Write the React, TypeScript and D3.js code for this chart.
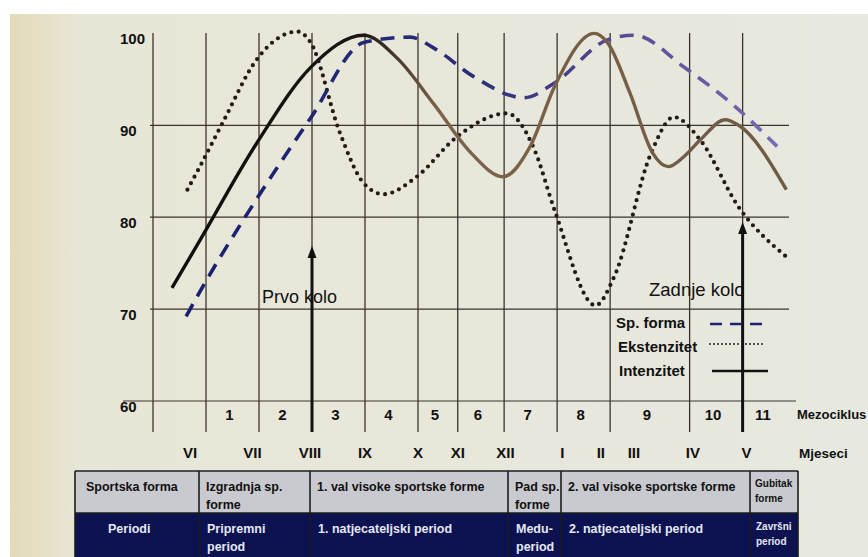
import React from 'react';
import * as d3 from 'd3';

// x axis is in weeks of the season, y is % of max
const yTicks = [60, 70, 80, 90, 100];
const mezoBounds = [0, 4, 8, 12, 16, 20, 23, 26.5, 30.5, 34.5, 40.5, 44.5];
const seasonEnd = 48;
const mezoLabels = ['1', '2', '3', '4', '5', '6', '7', '8', '9', '10', '11'];
const months = ['VI', 'VII', 'VIII', 'IX', 'X', 'XI', 'XII', 'I', 'II', 'III', 'IV', 'V'];
const monthWeeks = [2.8, 7.5, 11.85, 16, 20, 23, 26.6, 30.9, 33.8, 36.3, 40.75, 44.8];

const intenzitetWeeks = [1.43, 3.55, 7.85, 11.9, 15.9, 18.5, 21.2, 24, 26.4, 28.5, 30.3, 33.3, 34.3, 36, 37.7, 38.9, 40, 41.3, 43.2, 44.2, 47.8];
const intenzitet = [72.3, 77.5, 88.1, 96.3, 99.8, 97.2, 92.3, 87, 84.4, 87.8, 94.2, 100, 99, 93.5, 87, 85.5, 86.5, 88.4, 90.6, 90, 83];

const formaWeeks = [2.5, 3.5, 7.3, 11.9, 15.9, 19.4, 21.2, 24.2, 28, 30.3, 34.3, 36.3, 40.2, 44.2, 47.1];
const forma = [69.2, 71.8, 80.8, 90.8, 99, 99.6, 98.4, 95.3, 93, 94.6, 99.3, 99.8, 96.2, 91.7, 87.7];

const ekstenzitetWeeks = [2.6, 3.5, 5.3, 7.8, 10.9, 11.9, 14.1, 15.9, 17.4, 19.9, 22.9, 26.7, 28.8, 30.3, 33.4, 34.8, 37.6, 39.3, 41.3, 44.2, 47.8];
const ekstenzitet = [83, 85.4, 90.4, 97.1, 100.2, 99, 89.2, 83.7, 82.5, 84.4, 88.7, 91.3, 87.3, 80.8, 70.4, 73.5, 87, 90.9, 88.4, 81.1, 75.7];

const prvoKoloWeek = 12;
const zadnjeKoloWeek = 44.5;

const formaRow = ['Sportska forma', 'Izgradnja sp.|forme', '1. val visoke sportske forme', 'Pad sp.|forme', '2. val visoke sportske forme', 'Gubitak|forme'];
const periodRow = ['Periodi', 'Pripremni|period', '1. natjecateljski period', 'Medu-|period', '2. natjecateljski period', 'Završni|period'];

const W = 868;
const H = 557;
const font = '"Liberation Sans", Arial, sans-serif';

const x = d3.scaleLinear().domain([0, seasonEnd]).range([153, 789]);
const y = d3.scaleLinear().domain([60, 100]).range([401, 33.4]);

const line = d3.line<[number, number]>()
    .x(d => x(d[0]))
    .y(d => y(d[1]))
    .curve(d3.curveMonotoneX);

const zip = (a: number[], b: number[]) => a.map((v, i) => [v, b[i]] as [number, number]);

// table geometry
const tableCols = [75, 199, 310, 508, 561, 750, 798];
const tableTop = 471;
const tableMid = 513;

const Arrow = ({ wk, tip }: { wk: number; tip: number }) => (
    <g>
        <line x1={x(wk)} x2={x(wk)} y1={432} y2={tip + 10} stroke="#111" strokeWidth={3} />
        <path d={`M${x(wk) - 4.5},${tip + 12} L${x(wk)},${tip} L${x(wk) + 4.5},${tip + 12} Z`} fill="#111" />
    </g>
);

const Cell = ({ text, x0, yTop, color, small }: { text: string; x0: number; yTop: number; color: string; small: boolean }) => {
    const parts = text.split('|');
    const fs = small ? 10 : 12.5;
    const lh = small ? 15 : 18;
    return (
        <text x={x0} y={yTop} fill={color} fontFamily={font} fontWeight="bold" fontSize={fs}>
            {parts.map((p, i) => (
                <tspan key={i} x={x0} dy={i === 0 ? 0 : lh}>{p}</tspan>
            ))}
        </text>
    );
};

export default function App() {
    const grid = '#3b342c';
    return (
        <div style={{ position: 'fixed', left: 0, top: 0 }}>
            <svg width={W} height={H} style={{ display: 'block' }}>
                <defs>
                    <linearGradient id="page" x1="0" x2="1" y1="0" y2="0">
                        <stop offset="0" stopColor="#e2dab8" />
                        <stop offset="0.08" stopColor="#e8e6d6" />
                        <stop offset="1" stopColor="#e7e8df" />
                    </linearGradient>
                    <linearGradient id="intGrad" gradientUnits="userSpaceOnUse" x1={150} x2={790} y1={0} y2={0}>
                        <stop offset="0" stopColor="#0d0d0d" />
                        <stop offset="0.33" stopColor="#1a1612" />
                        <stop offset="0.45" stopColor="#7d634a" />
                        <stop offset="1" stopColor="#6f5a44" />
                    </linearGradient>
                    <linearGradient id="formaGrad" gradientUnits="userSpaceOnUse" x1={150} x2={790} y1={0} y2={0}>
                        <stop offset="0" stopColor="#131f6e" />
                        <stop offset="0.5" stopColor="#2a2d78" />
                        <stop offset="0.75" stopColor="#5a4c96" />
                        <stop offset="1" stopColor="#7f6db4" />
                    </linearGradient>
                </defs>
                <rect width={W} height={H} fill="#ffffff" />
                <rect x={10} y={14} width={W - 10} height={H - 14} fill="url(#page)" />

                {/* horizontal grid */}
                {yTicks.filter(t => t < 100).map(t => (
                    <line key={t} x1={t === 60 ? 123 : 150} x2={t === 60 ? 796 : x(seasonEnd)} y1={y(t)} y2={y(t)} stroke={grid} strokeWidth={1.2} />
                ))}
                {/* vertical lines */}
                {mezoBounds.map((b, i) => (
                    <line key={i} x1={x(b)} x2={x(b)} y1={33} y2={432} stroke={grid} strokeWidth={1.3} />
                ))}
                {yTicks.map(t => (
                    <text key={t} x={120} y={y(t) + 7} dominantBaseline="middle" fontFamily={font} fontWeight="bold" fontSize={15} fill="#111">{t}</text>
                ))}

                {/* curves */}
                <path d={line(zip(ekstenzitetWeeks, ekstenzitet)) || ''} fill="none" stroke="#231c16" strokeWidth={4.2} strokeDasharray="0 7.4" strokeLinecap="round" />
                <path d={line(zip(formaWeeks, forma)) || ''} fill="none" stroke="url(#formaGrad)" strokeWidth={3.6} strokeDasharray="14 9" />
                <path d={line(zip(intenzitetWeeks, intenzitet)) || ''} fill="none" stroke="url(#intGrad)" strokeWidth={3.4} />

                {/* arrows */}
                <Arrow wk={prvoKoloWeek} tip={246} />
                <Arrow wk={zadnjeKoloWeek} tip={222} />
                <text x={262} y={298} dominantBaseline="middle" fontFamily={font} fontSize={18} fill="#111">Prvo kolo</text>
                <text x={649} y={291} dominantBaseline="middle" fontFamily={font} fontSize={18.5} fill="#111">Zadnje kolo</text>

                {/* legend */}
                <text x={616} y={324} dominantBaseline="middle" fontFamily={font} fontWeight="bold" fontSize={15} fill="#111">Sp. forma</text>
                <text x={618} y={348} dominantBaseline="middle" fontFamily={font} fontWeight="bold" fontSize={15} fill="#111">Ekstenzitet</text>
                <text x={619} y={372} dominantBaseline="middle" fontFamily={font} fontWeight="bold" fontSize={15} fill="#111">Intenzitet</text>
                <line x1={710} x2={764} y1={324} y2={324} stroke="#1b2470" strokeWidth={2.5} strokeDasharray="12 8" />
                <line x1={710} x2={766} y1={344} y2={344} stroke="#222" strokeWidth={2} strokeDasharray="0 4" strokeLinecap="round" />
                <line x1={712} x2={768} y1={371} y2={371} stroke="#111" strokeWidth={2.6} />

                {/* mezociklus + months */}
                {mezoLabels.map((m, i) => {
                    const a = mezoBounds[i + 1];
                    const b = i + 2 < mezoBounds.length ? mezoBounds[i + 2] : seasonEnd;
                    return (
                        <text key={m} x={x((a + b) / 2) - 3} y={416} textAnchor="middle" dominantBaseline="middle" fontFamily={font} fontWeight="bold" fontSize={15} fill="#111">{m}</text>
                    );
                })}
                <text x={797} y={416} dominantBaseline="middle" fontFamily={font} fontWeight="bold" fontSize={13} fill="#111">Mezociklus</text>
                {months.map((m, i) => (
                    <text key={m} x={x(monthWeeks[i])} y={454} textAnchor="middle" dominantBaseline="middle" fontFamily={font} fontWeight="bold" fontSize={15} fill="#111">{m}</text>
                ))}
                <text x={799} y={454} dominantBaseline="middle" fontFamily={font} fontWeight="bold" fontSize={13.5} fill="#111">Mjeseci</text>

                {/* table */}
                <rect x={tableCols[0]} y={tableTop} width={tableCols[6] - tableCols[0]} height={tableMid - tableTop} fill="#c8cacf" />
                <rect x={tableCols[0]} y={tableMid} width={tableCols[6] - tableCols[0]} height={H - tableMid} fill="#0c1250" />
                <line x1={tableCols[0]} x2={tableCols[6]} y1={tableTop} y2={tableTop} stroke="#1c1c1c" strokeWidth={1.6} />
                <line x1={tableCols[0]} x2={tableCols[6]} y1={tableMid} y2={tableMid} stroke="#1c1c1c" strokeWidth={1.6} />
                {tableCols.map((c, i) => (
                    <line key={i} x1={c} x2={c} y1={tableTop} y2={H} stroke="#1c1c1c" strokeWidth={1.6} />
                ))}
                {formaRow.map((t, i) => (
                    <Cell key={i} text={t} x0={i === 0 ? 86 : tableCols[i] + (i === 5 ? 5 : 7)} yTop={i === 5 ? 487 : 491} color="#111" small={i === 5} />
                ))}
                {periodRow.map((t, i) => (
                    <Cell key={i} text={t} x0={i === 0 ? 108 : tableCols[i] + (i === 5 ? 6 : 8)} yTop={i === 5 ? 530 : 533} color="#e4e7f2" small={i === 5} />
                ))}
            </svg>
        </div>
    );
}
